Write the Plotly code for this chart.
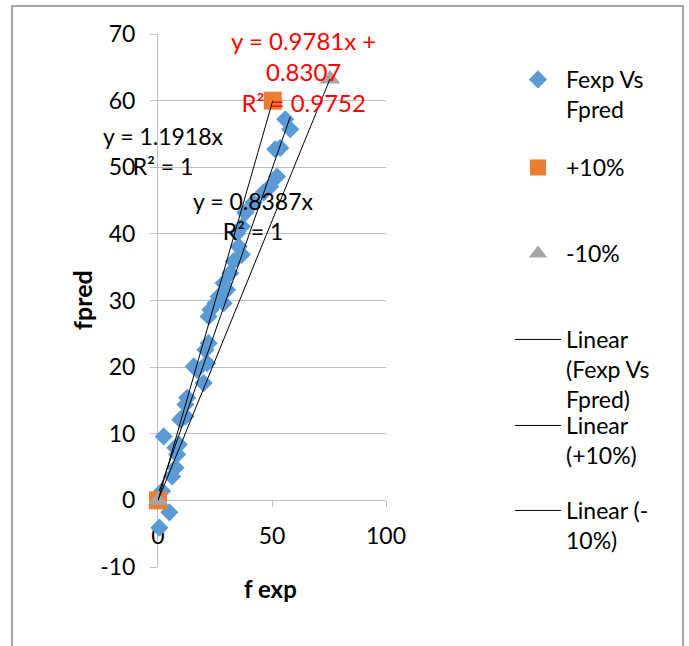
import plotly.graph_objects as go

# ---------------- data ----------------
fexp = [0.6, 1.8, 5.0, 2.5, 6.2, 7.7, 8.4, 7.6, 9.1, 9.8, 10.6, 12.0, 12.0, 12.8,
        15.7, 17.2, 20.0, 21.5, 20.8, 22.2, 22.2, 23.0, 25.2, 26.6, 28.8, 30.3,
        28.8, 31.7, 33.2, 36.8, 35.4, 34.7, 36.8, 38.3, 41.9, 46.3, 49.2, 52.2,
        51.4, 53.6, 55.8, 58.0]
fpred = [-4.1, 1.4, -1.8, 9.6, 3.6, 4.9, 6.9, 7.9, 8.4, 12.1, 12.4, 12.6, 14.4, 15.4,
         20.1, 19.6, 17.6, 20.6, 22.6, 23.6, 27.6, 28.6, 29.6, 30.6, 29.6, 31.6,
         32.6, 34.1, 35.9, 36.9, 38.1, 40.1, 41.1, 43.2, 44.7, 46.2, 47.1, 48.6,
         52.7, 52.9, 57.2, 55.7]
plus_x = [0, 50.34]
plus_y = [0, 60]
minus_x = [0, 75.4]
minus_y = [0, 63.24]

fit_main = (0.9781, 0.8307)
fit_plus = (1.1918, 0.0)
fit_minus = (0.8387, 0.0)

x_ticks = [0, 50, 100]
y_ticks = [-10, 0, 10, 20, 30, 40, 50, 60, 70]

names = ["Fexp Vs<br>Fpred", "+10%", "-10%",
         "Linear<br>(Fexp Vs<br>Fpred)", "Linear<br>(+10%)", "Linear (-<br>10%)"]

FONT = "Lato"
W, H = 689, 646
ML, MR, MT, MB = 158, 303, 34, 79
PW, PH = W - ML - MR, H - MT - MB
GRID = "#BFBFBF"


def px_to_paper_x(px):
    return (px - ML) / PW


def px_to_paper_y(py):
    return (H - MB - py) / PH


def trend(xs, fit):
    lo, hi = min(xs), max(xs)
    return [lo, hi], [fit[0] * lo + fit[1], fit[0] * hi + fit[1]]


fig = go.Figure()

fig.add_trace(go.Scatter(x=fexp, y=fpred, mode="markers", name=names[0], legend="legend",
                         marker=dict(symbol="diamond", size=14, color="#5B9BD5"),
                         cliponaxis=False))
fig.add_trace(go.Scatter(x=plus_x, y=plus_y, mode="markers", name=names[1], legend="legend2",
                         marker=dict(symbol="square", size=18, color="#ED7D31"),
                         cliponaxis=False))
fig.add_trace(go.Scatter(x=minus_x, y=minus_y, mode="markers", name=names[2], legend="legend3",
                         marker=dict(symbol="triangle-up", size=18, color="#A5A5A5"),
                         cliponaxis=False))

for xs, fit, nm, lg in [(fexp, fit_main, names[3], "legend4"),
                        (plus_x, fit_plus, names[4], "legend5"),
                        (minus_x, fit_minus, names[5], "legend6")]:
    tx, ty = trend(xs, fit)
    fig.add_trace(go.Scatter(x=tx, y=ty, mode="lines", name=nm, legend=lg,
                             line=dict(color="black", width=1), cliponaxis=False))

# legends: one per entry so spacing matches the original
legend_first_line_px = [80, 168, 254, 340, 426, 511]
leg_keys = ["legend", "legend2", "legend3", "legend4", "legend5", "legend6"]
legend_layout = {}
for key, cy in zip(leg_keys, legend_first_line_px):
    legend_layout[key] = dict(
        xref="container", yref="container",
        x=510 / W, y=1 - (cy - 22) / H, xanchor="left", yanchor="top",
        bgcolor="rgba(0,0,0,0)", borderwidth=0, valign="top", itemwidth=46,
        font=dict(family=FONT, size=23, color="black"))

fig.update_layout(
    width=W, height=H,
    margin=dict(l=ML, r=MR, t=MT, b=MB),
    plot_bgcolor="white", paper_bgcolor="white",
    font=dict(family=FONT, size=23, color="black"),
    showlegend=True,
    **legend_layout,
)

fig.update_xaxes(range=[0, 100], tickvals=x_ticks, ticktext=[str(v) for v in x_ticks],
                 showgrid=False, zeroline=False,
                 showline=True, linecolor=GRID, linewidth=1,
                 anchor="free", position=10 / 80,
                 ticks="outside", ticklen=6, tickcolor=GRID,
                 tickfont=dict(family=FONT, size=23, color="black"),
                 ticklabelstandoff=9, layer="below traces")
fig.update_yaxes(range=[-10, 70], tickvals=y_ticks, ticktext=[str(v) for v in y_ticks],
                 showgrid=True, gridcolor=GRID,
                 gridwidth=1, zeroline=False, showline=True, linecolor=GRID,
                 linewidth=1, ticks="outside", ticklen=7, tickcolor=GRID,
                 tickfont=dict(family=FONT, size=23, color="black"),
                 ticklabelstandoff=10, layer="below traces")

# axis titles
fig.add_annotation(text="<b>f exp</b>", xref="paper", yref="paper",
                   x=px_to_paper_x(270), y=px_to_paper_y(588), showarrow=False,
                   xanchor="center", yanchor="middle",
                   font=dict(family=FONT, size=24, color="black"))
fig.add_annotation(text="<b>fpred</b>", xref="paper", yref="paper",
                   x=px_to_paper_x(82), y=px_to_paper_y(300), showarrow=False,
                   xanchor="center", yanchor="middle",
                   textangle=-90, font=dict(family=FONT, size=25, color="black"))

# trendline labels
fig.add_annotation(text="y = 0.9781x +<br>0.8307<br>R² = 0.9752", xref="x", yref="y",
                   x=63.6, y=64.3, showarrow=False, align="center",
                   xanchor="center", yanchor="middle",
                   font=dict(family=FONT, size=24, color="#FF0000"))
fig.add_annotation(text="y = 1.1918x<br>R² = 1", xref="x", yref="y",
                   x=2.2, y=52.4, showarrow=False, align="center",
                   xanchor="center", yanchor="middle",
                   font=dict(family=FONT, size=23, color="black"))
fig.add_annotation(text="y = 0.8387x<br>R² = 1", xref="x", yref="y",
                   x=42.1, y=42.7, showarrow=False, align="center",
                   xanchor="center", yanchor="middle",
                   font=dict(family=FONT, size=23, color="black"))

# chart frame
fig.add_shape(type="rect", xref="paper", yref="paper",
              x0=px_to_paper_x(12), x1=px_to_paper_x(683),
              y0=px_to_paper_y(720), y1=px_to_paper_y(6),
              line=dict(color="#A6A6A6", width=2), fillcolor="rgba(0,0,0,0)",
              layer="below")

fig.write_html("out.html",
               config={"displayModeBar": False},
               post_script="document.body.style.margin='0';"
                           "document.body.style.overflow='hidden';")
